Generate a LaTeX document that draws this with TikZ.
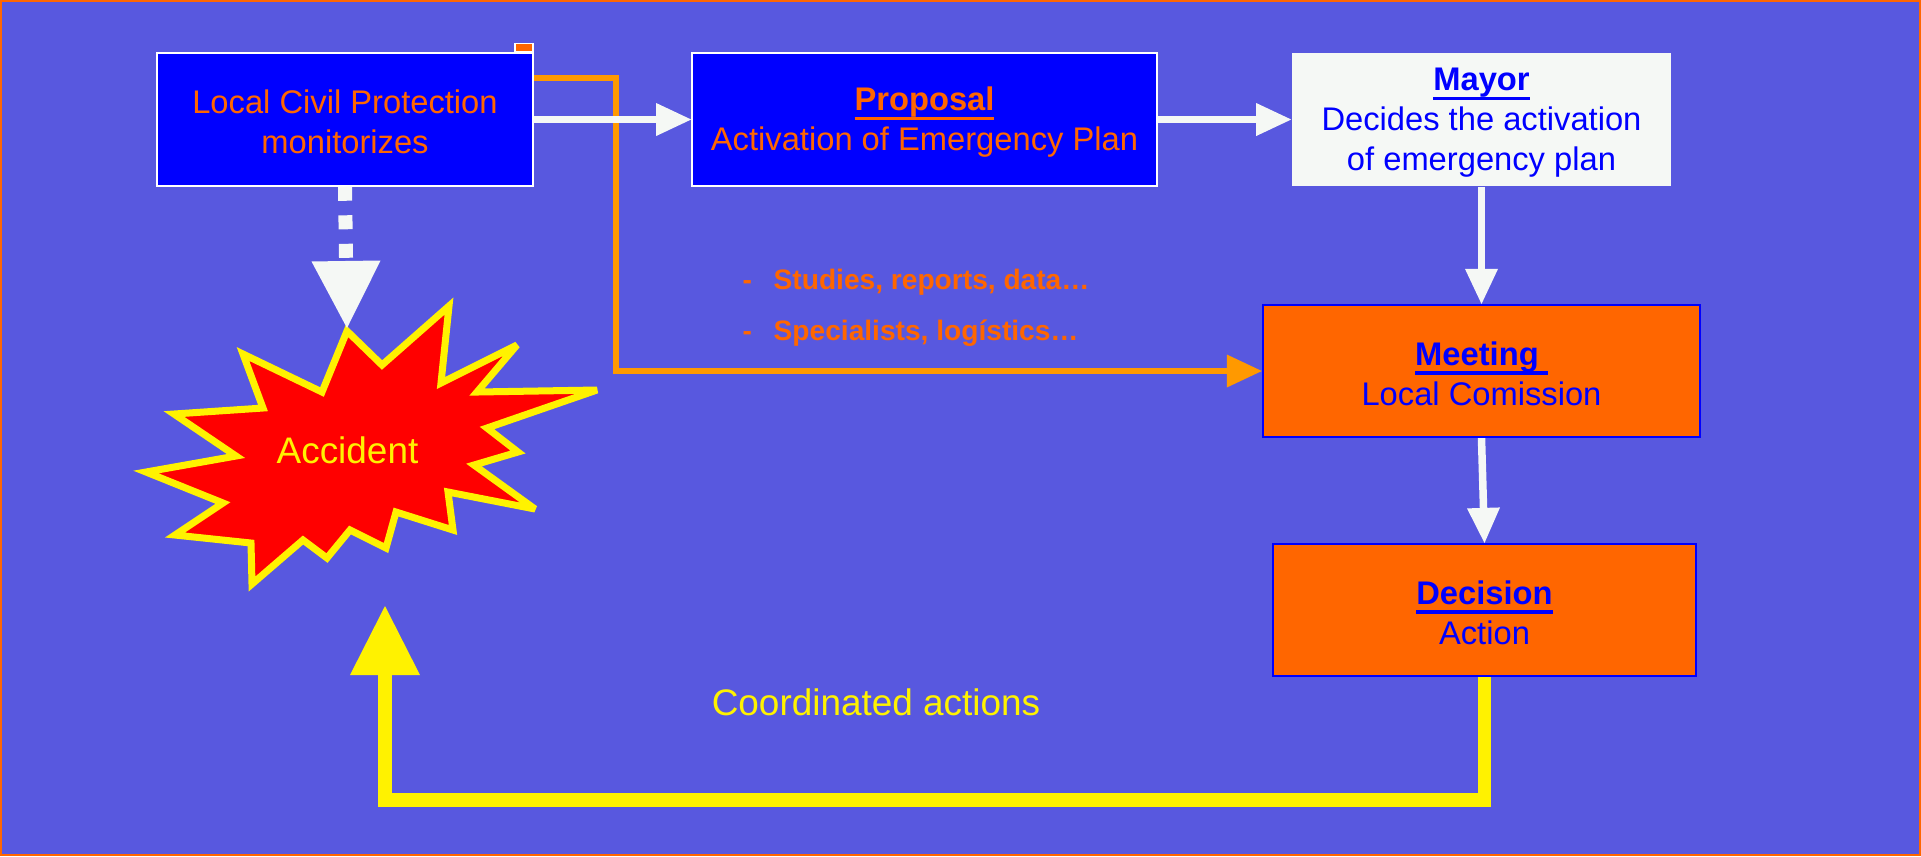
\documentclass[tikz,border=0pt]{standalone}
\usepackage{fontspec}
\setmainfont{Liberation Sans}
\usetikzlibrary{arrows.meta}
\definecolor{slide}{RGB}{88,88,223}
\definecolor{deepblue}{RGB}{0,0,255}
\definecolor{signal}{RGB}{255,102,0}
\definecolor{amber}{RGB}{255,153,0}
\definecolor{paper}{RGB}{245,248,245}
\newcommand{\topstrut}{\rule[-0.2em]{0pt}{1.08em}}
\newcommand{\headword}[1]{\topstrut\setbox0\hbox{\bfseries #1}\rlap{\rule[-2.6pt]{\wd0}{0.9pt}}\box0}

\begin{document}
\begin{tikzpicture}[x=0.01cm,y=-0.01cm,
    box/.style={rectangle,inner sep=0,align=center,font=\fontsize{9.3}{11.3}\selectfont},
    bluebox/.style={box,fill=deepblue,draw=white,line width=0.4pt,text=signal},
    orangebox/.style={box,fill=signal,draw=deepblue,line width=0.6pt,text=deepblue},
    whitearrow/.style={draw=paper,line width=0.075cm,-{Triangle[length=0.35cm,width=0.33cm,line width=0pt]}},
    label text/.style={inner sep=0,font=\fontsize{10.5}{12}\selectfont,text=yellow}]
  \useasboundingbox (0,0) rectangle (1921,856);
  \fill[slide] (0,0) rectangle (1921,856);
  \draw[signal,line width=0.6pt] (1,1) rectangle (1920,855);

  \node[bluebox,minimum width=3.76cm,minimum height=1.33cm] (lcp) at (345,119.5) {\topstrut Local Civil Protection\\monitorizes};
  \node[fill=signal,draw=white,line width=0.4pt,inner sep=0,minimum width=0.18cm,minimum height=0.08cm,anchor=south east] (tab) at (lcp.north east) {};
  \node[bluebox,minimum width=4.65cm,minimum height=1.33cm] (proposal) at (924.5,119.5) {\headword{Proposal}\\Activation of Emergency Plan};
  \node[box,fill=paper,text=deepblue,minimum width=3.79cm,minimum height=1.33cm] (mayor) at (1481.5,119.5) {\headword{Mayor}\\Decides the activation\\of emergency plan};
  \node[orangebox,minimum width=4.37cm,minimum height=1.32cm] (meeting) at (1481.5,371) {\headword{Meeting\ }\\Local Comission};
  \node[orangebox,minimum width=4.23cm,minimum height=1.32cm] (decision) at (1484.5,610) {\headword{Decision}\\Action};

  \draw[fill=red,draw=yellow,line width=0.07cm,line join=miter,miter limit=4]
    (347,331) -- (382,365) -- (449,306) -- (441,383) -- (517,345) -- (477,392) -- (597,390)
    -- (487,428) -- (518,452) -- (474,465) -- (535,509) -- (448,492) -- (453,530) -- (396,512)
    -- (386,548) -- (350,530) -- (327,558) -- (303,540) -- (252,584) -- (251,543) -- (175,535)
    -- (223,503) -- (146,472) -- (236,456) -- (174,414) -- (263,408) -- (243,354) -- (322,392) -- cycle;
  \coordinate (bursttop) at (347,328);
  \node[label text,anchor=base] (accident) at (347.5,463) {Accident};

  \draw[draw=paper,line width=0.14cm,dash pattern=on 0.14cm off 0.145cm,-{Triangle[length=0.67cm,width=0.69cm,line width=0pt]}] (lcp.south) -- (bursttop);

  \draw[draw=amber,line width=0.065cm,-{Triangle[length=0.35cm,width=0.33cm,line width=0pt]}] ([yshift=-0.255cm]lcp.north east) -- ++(82,0) |- (meeting.west);
  \node[inner sep=0,anchor=base west,text=signal,font=\fontsize{8}{9}\selectfont\bfseries] (studies) at (742,289) {\makebox[0.31cm][l]{-}Studies, reports, data…};
  \node[inner sep=0,anchor=base west,text=signal,font=\fontsize{8}{9}\selectfont\bfseries] (experts) at (742,340) {\makebox[0.31cm][l]{-}Specialists, logístics…};

  \draw[whitearrow] (lcp) -- (proposal);
  \draw[whitearrow] (proposal) -- (mayor);
  \draw[whitearrow] (mayor) -- (meeting);
  \draw[whitearrow] (meeting.south) -- (decision.north);

  \coordinate (loopend) at (385,606);
  \draw[draw=yellow,line width=0.135cm,-{Triangle[length=0.69cm,width=0.70cm,line width=0pt]}] (decision.south) -- ++(0,123) -| (loopend);
  \node[label text,anchor=base] (coord) at (876,715) {Coordinated actions};
\end{tikzpicture}
\end{document}
